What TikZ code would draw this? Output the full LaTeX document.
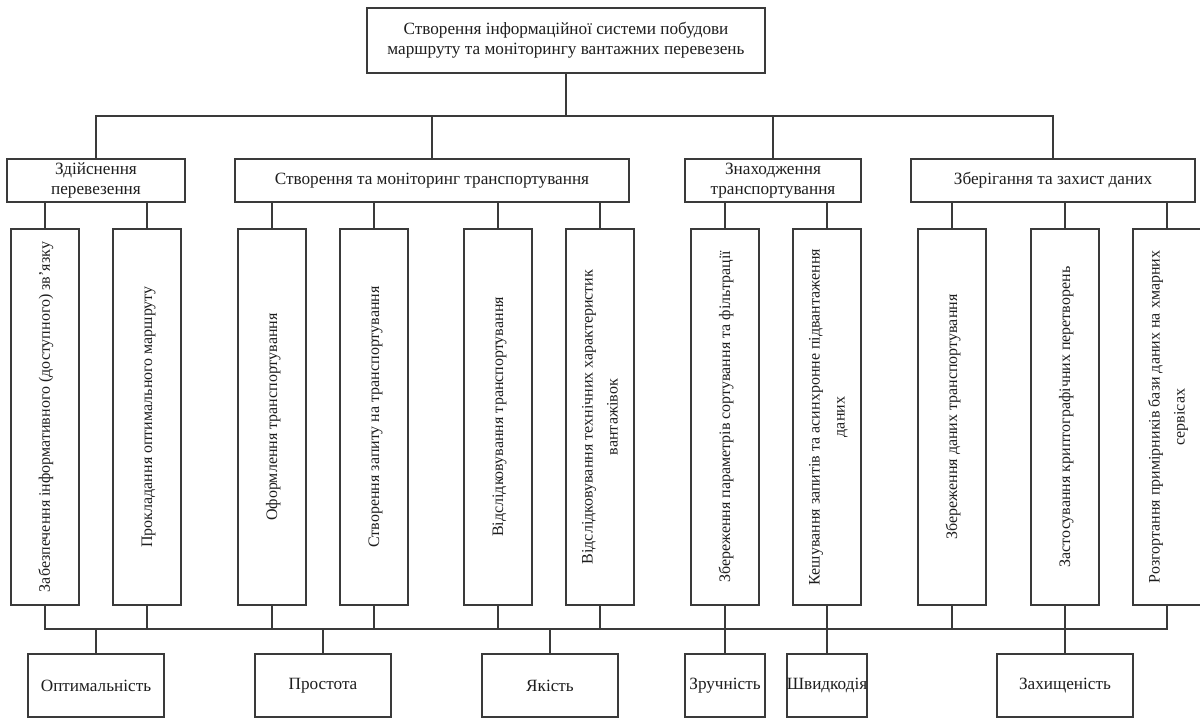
\documentclass[tikz,border=0pt]{standalone}
\usepackage{fontspec}
\usepackage{graphicx}
\setmainfont{Liberation Serif}
\definecolor{linec}{HTML}{3A3A3A}
\definecolor{textc}{HTML}{1E1E1E}
\newcommand\vlabel[1]{\rotatebox{90}{\fontsize{16}{25}\selectfont\begin{tabular}{@{}c@{}}#1\end{tabular}}}
\begin{document}
\begin{tikzpicture}[x=1pt,y=-1pt,
  box/.style={draw=linec, line width=1.2pt, rectangle, inner sep=0pt, outer sep=0pt, align=center, text=textc, font=\fontsize{17.2}{20}\selectfont},
  vbox/.style={box, minimum width=68pt, minimum height=376pt},
  bbox/.style={box, minimum height=63pt},
  conn/.style={draw=linec, line width=1.2pt}]
\useasboundingbox (0,0) rectangle (1200,718);
\fill[white] (0,0) rectangle (1200,718);
\coordinate (bus) at (0,116);
\coordinate (bbus) at (0,629);
% top
\node[box, minimum width=398pt, minimum height=65pt] (top) at (566,40.5) {Створення інформаційної системи побудови\\маршруту та моніторингу вантажних перевезень};
% level 2
\node[box, minimum width=178pt, minimum height=43pt] (g1) at (96,180.5) {Здійснення\\перевезення};
\node[box, minimum width=394pt, minimum height=43pt] (g2) at (432,180.5) {Створення та моніторинг транспортування};
\node[box, minimum width=176pt, minimum height=43pt] (g3) at (773,180.5) {Знаходження\\транспортування};
\node[box, minimum width=284pt, minimum height=43pt] (g4) at (1053,180.5) {Зберігання та захист даних};
\draw[conn] (g1.north) |- (g4.north |- bus) -- (g4.north);
\draw[conn] (top.south) -- (top.south |- bus);
\draw[conn] (g2.north) -- (g2.north |- bus);
\draw[conn] (g3.north) -- (g3.north |- bus);
% vertical boxes
\node[vbox] (v1) at (45,417) {\vlabel{Забезпечення інформативного (доступного) зв’язку}};
\node[vbox] (v2) at (147,417) {\vlabel{Прокладання оптимального маршруту}};
\node[vbox] (v3) at (272,417) {\vlabel{Оформлення транспортування}};
\node[vbox] (v4) at (374,417) {\vlabel{Створення запиту на транспортування}};
\node[vbox] (v5) at (498,417) {\vlabel{Відслідковування транспортування}};
\node[vbox] (v6) at (600,417) {\vlabel{Відслідковування технічних характеристик\\вантажівок}};
\node[vbox] (v7) at (725,417) {\vlabel{Збереження параметрів сортування та фільтрації}};
\node[vbox] (v8) at (827,417) {\vlabel{Кешування запитів та асинхронне підвантаження\\даних}};
\node[vbox] (v9) at (952,417) {\vlabel{Збереження даних транспортування}};
\node[vbox] (v10) at (1065,417) {\vlabel{Застосування криптографічних перетворень}};
\node[vbox] (v11) at (1167,417) {\vlabel{Розгортання примірників бази даних на хмарних\\сервісах}};
\draw[conn] (v1.north) -- (v1.north |- g1.south);
\draw[conn] (v2.north) -- (v2.north |- g1.south);
\draw[conn] (v3.north) -- (v3.north |- g2.south);
\draw[conn] (v4.north) -- (v4.north |- g2.south);
\draw[conn] (v5.north) -- (v5.north |- g2.south);
\draw[conn] (v6.north) -- (v6.north |- g2.south);
\draw[conn] (v7.north) -- (v7.north |- g3.south);
\draw[conn] (v8.north) -- (v8.north |- g3.south);
\draw[conn] (v9.north) -- (v9.north |- g4.south);
\draw[conn] (v10.north) -- (v10.north |- g4.south);
\draw[conn] (v11.north) -- (v11.north |- g4.south);
% bottom bus
\draw[conn] (v1.south) |- (v11.south |- bbus) -- (v11.south);
\draw[conn] (v2.south) -- (v2.south |- bbus);
\draw[conn] (v3.south) -- (v3.south |- bbus);
\draw[conn] (v4.south) -- (v4.south |- bbus);
\draw[conn] (v5.south) -- (v5.south |- bbus);
\draw[conn] (v6.south) -- (v6.south |- bbus);
\draw[conn] (v7.south) -- (v7.south |- bbus);
\draw[conn] (v8.south) -- (v8.south |- bbus);
\draw[conn] (v9.south) -- (v9.south |- bbus);
\draw[conn] (v10.south) -- (v10.south |- bbus);
% bottom boxes
\node[bbox, minimum width=136pt] (b1) at (96,685.5) {Оптимальність};
\node[bbox, minimum width=136pt] (b2) at (323,685.5) {Простота};
\node[bbox, minimum width=136pt] (b3) at (550,685.5) {Якість};
\node[bbox, minimum width=80pt] (b4) at (725,685.5) {\makebox[0pt]{Зручність}};
\node[bbox, minimum width=80pt] (b5) at (827,685.5) {\makebox[0pt]{Швидкодія}};
\node[bbox, minimum width=136pt] (b6) at (1065,685.5) {Захищеність};
\draw[conn] (b1.north) -- (b1.north |- bbus);
\draw[conn] (b2.north) -- (b2.north |- bbus);
\draw[conn] (b3.north) -- (b3.north |- bbus);
\draw[conn] (b4.north) -- (b4.north |- bbus);
\draw[conn] (b5.north) -- (b5.north |- bbus);
\draw[conn] (b6.north) -- (b6.north |- bbus);
\end{tikzpicture}
\end{document}
